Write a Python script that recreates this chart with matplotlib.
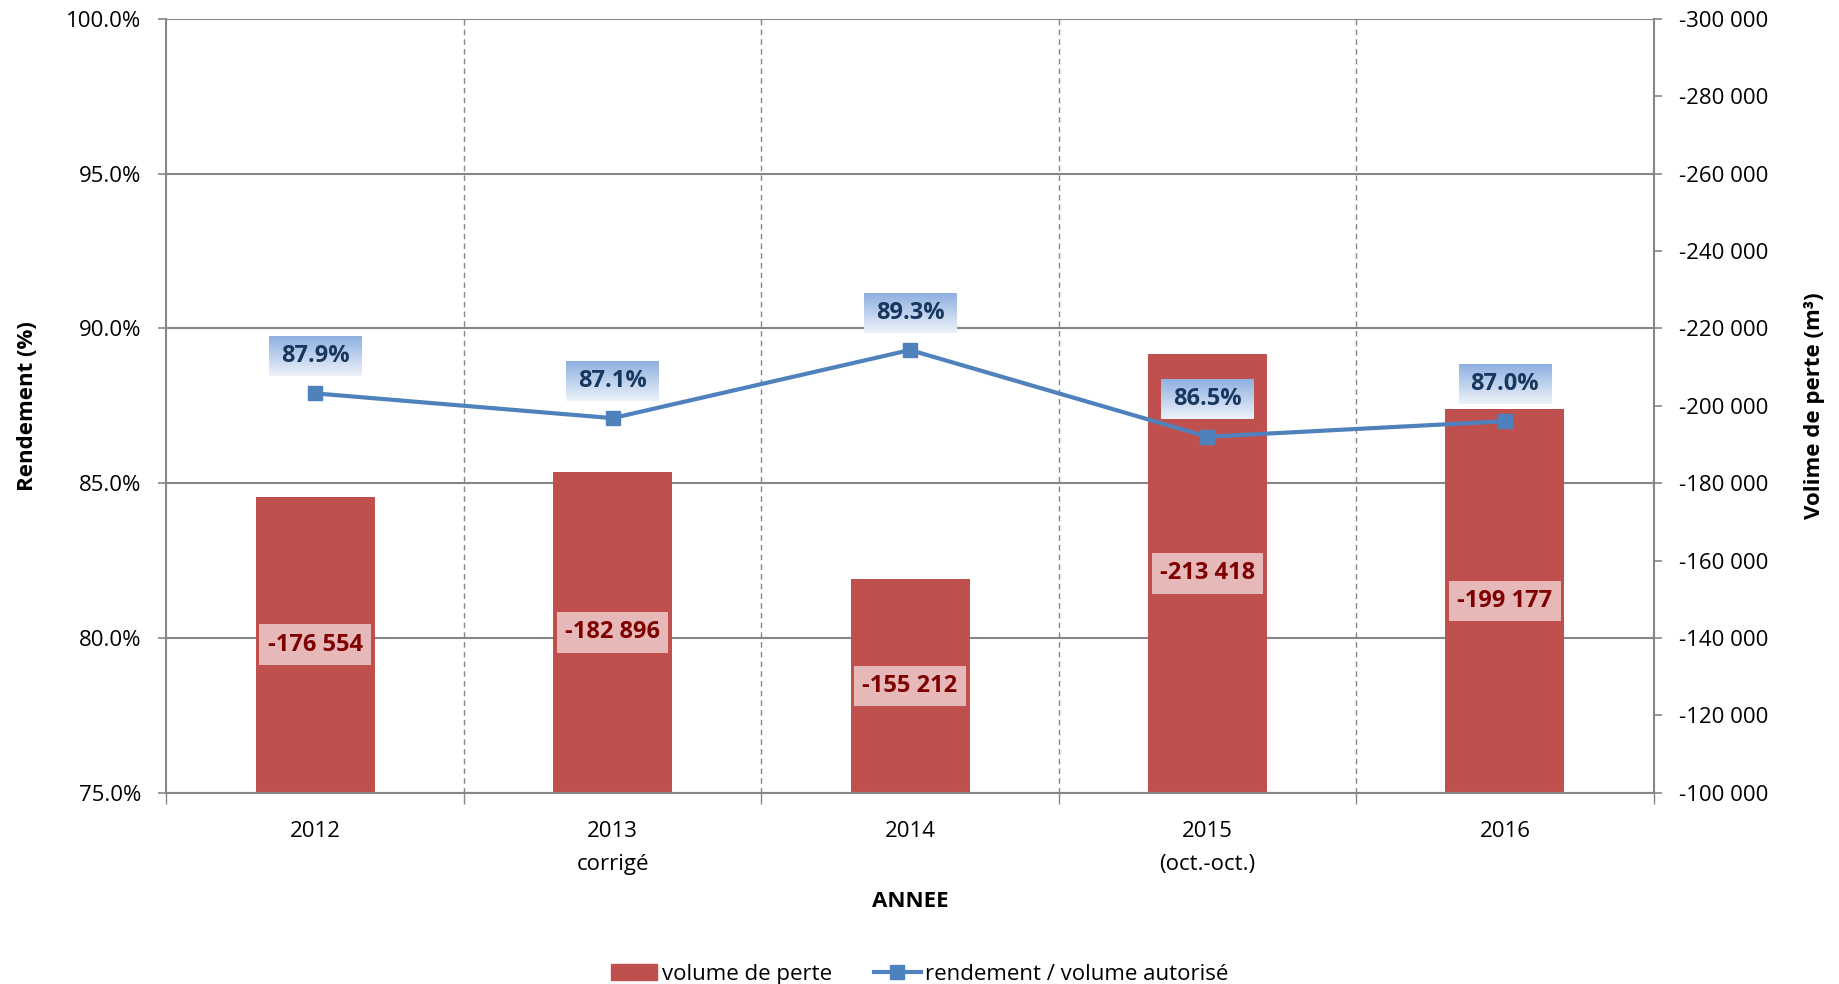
import matplotlib
matplotlib.use('Agg')
import matplotlib.pyplot as plt
import numpy as np
from matplotlib.lines import Line2D
from matplotlib.patches import Patch

plt.rcParams['font.family'] = ['Open Sans', 'DejaVu Sans']
plt.rcParams['font.size'] = 16

# ---------------- data ---------------- #
categories = ['2012', '2013\ncorrigé', '2014', '2015\n(oct.-oct.)', '2016']
volume_perte = [-176554, -182896, -155212, -213418, -199177]
rendement = [87.9, 87.1, 89.3, 86.5, 87.0]

pct_ticks = [75, 80, 85, 90, 95, 100]
vol_ticks = list(range(-100000, -300001, -20000))
vol_base = -100000

grey = '#868686'
bar_color = '#C0504D'
line_color = '#4F81BD'

# ---------------- figure ---------------- #
fig = plt.figure(figsize=(18.39, 9.84), dpi=100)
ax_bar = fig.add_axes([0.0905, 0.1943, 0.8087, 0.7867])
ax_line = ax_bar.twinx()

x = np.arange(len(categories))

# grid (drawn on the back axes so bars hide it)
for k in range(len(pct_ticks)):
    ax_bar.axhline(vol_base - 40000 * k, color=grey, lw=1.5, zorder=0.5)
for b in x[:-1] + 0.5:
    ax_bar.axvline(b, color=grey, lw=1, ls=(0, (4, 3)), zorder=0.5)

heights = [v - vol_base for v in volume_perte]
ax_bar.bar(x, heights, bottom=vol_base, width=0.4, color=bar_color, zorder=2)
ax_bar.set_ylim(-100000, -300000)
ax_bar.set_xlim(-0.5, len(categories) - 0.5)
ax_bar.yaxis.tick_right()
ax_bar.yaxis.set_label_position('right')
ax_bar.set_yticks(vol_ticks)
ax_bar.set_yticklabels(['{:,.0f}'.format(v).replace(',', ' ') for v in vol_ticks])
ax_bar.set_ylabel('Volime de perte (m³)', fontweight='bold', labelpad=26, rotation=90)

for xi, v in zip(x, volume_perte):
    ax_bar.text(xi, (v + vol_base) / 2, '{:,.0f}'.format(v).replace(',', ' '),
                ha='center', va='center', fontsize=17, fontweight='bold', color='#7F0000',
                bbox=dict(boxstyle='square,pad=0.35', fc='#E6B9B8', ec='none'), zorder=4)

# x axis: ticks at boundaries, labels at centers
ax_bar.set_xticks(np.arange(-0.5, len(categories), 1.0))
ax_bar.set_xticklabels([])
ax_bar.set_xticks(x, minor=True)
ax_bar.set_xticklabels(categories, minor=True, linespacing=1.75)
ax_bar.tick_params(axis='x', which='major', length=8, width=1, color=grey, direction='out')
ax_bar.tick_params(axis='x', which='minor', length=0, pad=20)
ax_bar.tick_params(axis='y', length=6, width=1.2, color=grey, pad=12, direction='out')
ax_bar.set_xlabel('ANNEE', fontweight='bold', labelpad=12)

for s in ['left', 'right', 'bottom']:
    ax_bar.spines[s].set_color(grey)
    ax_bar.spines[s].set_linewidth(1.5)
ax_bar.spines['top'].set_visible(False)

# line on top axes
ax_line.plot(x, rendement, color=line_color, lw=3, marker='s', ms=10, zorder=3)
ax_line.set_ylim(75, 100)
ax_line.yaxis.tick_left()
ax_line.yaxis.set_label_position('left')
ax_line.set_yticks(pct_ticks)
ax_line.set_yticklabels(['%.1f%%' % p for p in pct_ticks])
ax_line.tick_params(axis='y', length=6, width=1.2, color=grey, pad=12, direction='out')
ax_line.set_ylabel('Rendement (%)', fontweight='bold', labelpad=20)
for s in ax_line.spines.values():
    s.set_visible(False)

labels = []
for xi, r in zip(x, rendement):
    t = ax_line.annotate('%.1f%%' % r, (xi, r), xytext=(0, 27), textcoords='offset points',
                         ha='center', va='center', fontsize=17, fontweight='bold',
                         color='#17375E', zorder=5)
    labels.append(t)

# legend
handles = [Patch(color=bar_color),
           Line2D([], [], color=line_color, lw=3, marker='s', ms=10)]
fig.legend(handles, ['volume de perte', 'rendement / volume autorisé'],
           loc='lower center', bbox_to_anchor=(0.5, -0.01), ncol=2, frameon=False,
           handlelength=2.1, columnspacing=1.9, handletextpad=0.2, borderaxespad=0)

# gradient boxes behind the line labels
fig.canvas.draw()
renderer = fig.canvas.get_renderer()
grad = np.linspace([0.56, 0.69, 0.88], [0.93, 0.95, 0.98], 64).reshape(64, 1, 3)
inv = ax_line.transData.inverted()
for t in labels:
    bb = t.get_window_extent(renderer)
    (dx0, dy0), (dx1, dy1) = inv.transform([[bb.x0 - 12, bb.y0 - 8], [bb.x1 + 12, bb.y1 + 8]])
    ax_line.imshow(grad, extent=(dx0, dx1, dy0, dy1), aspect='auto', origin='upper',
                   interpolation='bilinear', zorder=4)
ax_line.set_xlim(-0.5, len(categories) - 0.5)
ax_line.set_ylim(75, 100)

fig.savefig('out.png', dpi=100)
